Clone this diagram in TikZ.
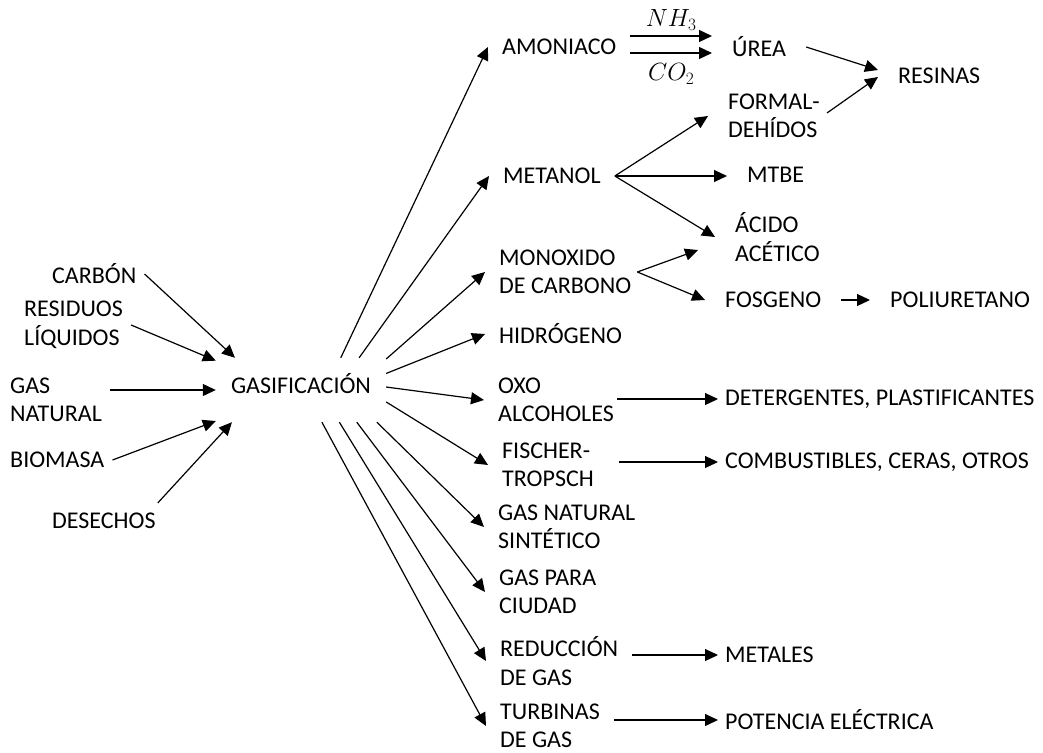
\documentclass[tikz,border=0pt]{standalone}
\usepackage{fontspec}
\setmainfont{Carlito}
\usetikzlibrary{arrows.meta}

\begin{document}
\begin{tikzpicture}[x=1pt, y=-1pt, >={Triangle[length=13pt,width=12pt]},
    every node/.style={font=\fontsize{24}{28.5}\selectfont, align=left, inner ysep=2pt},
    ent/.style={anchor=west, inner xsep=8pt},
    ramal/.style={anchor=west, inner xsep=14pt},
    inter/.style={anchor=west, inner xsep=20pt},
    prod/.style={anchor=west, inner xsep=7pt},
    flecha/.style={->, line width=1.2pt}]
    \useasboundingbox (0,0) rectangle (1043,752);

    % entradas
    \node[ent] (carbon)   at (44,274) {CARBÓN};
    \node[ent] (resid)    at (16,325) {RESIDUOS\\LÍQUIDOS};
    \node[ent] (gasnat)   at (2,400)  {GAS\\NATURAL};
    \node[ent] (biomasa)  at (2,460)  {BIOMASA};
    \node[ent] (desechos) at (44,521) {DESECHOS};

    % gasificacion
    \node[minimum width=170pt, minimum height=64pt, text height=20pt, text depth=14pt, inner sep=0pt] (gas) at (301,390) {GASIFICACIÓN};

    % ramales
    \node[ramal] (amon)    at (488,47)  {AMONIACO};
    \node[ramal] (metanol) at (489,176) {METANOL};
    \node[ramal] (monox)   at (485,272) {MONOXIDO\\DE CARBONO};
    \node[ramal] (hidro)   at (485,334) {HIDRÓGENO};
    \node[ramal] (oxo)     at (484,400) {OXO\\ALCOHOLES};
    \node[ramal] (fischer) at (488,465) {FISCHER-\\TROPSCH};
    \node[ramal] (gns)     at (484,527) {GAS NATURAL\\SINTÉTICO};
    \node[ramal] (gpc)     at (485,592) {GAS PARA\\CIUDAD};
    \node[ramal] (reduc)   at (486,661) {REDUCCIÓN\\DE GAS};
    \node[ramal] (turb)    at (486,726) {TURBINAS\\DE GAS};

    % intermedios
    \node[inter] (urea)    at (712,47)  {ÚREA};
    \node[inter] (formal)  at (708,116) {FORMAL-\\DEHÍDOS};
    \node[inter] (mtbe)    at (727,175) {MTBE};
    \node[inter] (acido)   at (715,237) {ÁCIDO\\ACÉTICO};
    \node[inter] (fosgeno) at (705,300) {FOSGENO};
    \node[inter] (poliur)  at (870,300) {POLIURETANO};
    \node[inter] (resinas) at (878,76)  {RESINAS};

    % productos
    \node[prod] (deter)    at (718,399) {DETERGENTES, PLASTIFICANTES};
    \node[prod] (comb)     at (718,462) {COMBUSTIBLES, CERAS, OTROS};
    \node[prod] (metales)  at (718,655) {METALES};
    \node[prod] (potencia) at (718,720) {POTENCIA ELÉCTRICA};

    % flechas de entrada
    \draw[flecha] (carbon.east) -- (gas.154);
    \draw[flecha] (resid.east) -- (gas.161);
    \draw[flecha] (gasnat.east |- gas.west) -- (gas.west);
    \draw[flecha] (biomasa.east) -- (gas.200);
    \draw[flecha] ([xshift=-6pt,yshift=8pt]desechos.north east) -- (gas.205);

    % abanico
    \draw[flecha] (gas.39)  -- (amon.west);
    \draw[flecha] (gas.29)  -- (metanol.west);
    \draw[flecha] (gas.20)  -- (monox.west);
    \draw[flecha] (gas.11)  -- (hidro.west);
    \draw[flecha] (gas.2)   -- (oxo.west);
    \draw[flecha] (gas.-8)  -- (fischer.west);
    \draw[flecha] (gas.-23) -- (gns.west);
    \draw[flecha] (gas.-30) -- (gpc.west);
    \draw[flecha] (gas.-40) -- (reduc.west);
    \draw[flecha] (gas.-57) -- (turb.west);

    % derivados
    \draw[flecha] ([yshift=11pt]amon.east) -- ([yshift=11pt]urea.west) node[midway, above=3pt] (nh3) {$NH_3$};
    \draw[flecha] ([yshift=-6pt]amon.east) -- ([yshift=-6pt]urea.west) node[midway, below=8pt] (co2) {$CO_2$};
    \draw[flecha] (metanol.east) -- (formal.west);
    \draw[flecha] (metanol.east) -- (metanol.east -| mtbe.west);
    \draw[flecha] (metanol.east) -- (acido.west);
    \draw[flecha] ([xshift=-8pt]monox.east) -- ([xshift=-17pt,yshift=-13pt]acido.west);
    \draw[flecha] ([xshift=-8pt]monox.east) -- (fosgeno.west);
    \draw[flecha] (fosgeno.east) -- (poliur.west);
    \draw[flecha] (urea.east) -- ([yshift=6pt]resinas.west);
    \draw[flecha] ([xshift=-13pt,yshift=3pt]formal.east) -- ([yshift=-1pt]resinas.west);
    \draw[flecha, shorten <=-11pt] (oxo.east |- deter.west) -- (deter.west);
    \draw[flecha, shorten <=11pt] (fischer.east |- comb.west) -- (comb.west);
    \draw[flecha] (reduc.east |- metales.west) -- (metales.west);
    \draw[flecha] (turb.east |- potencia.west) -- (potencia.west);
\end{tikzpicture}
\end{document}
